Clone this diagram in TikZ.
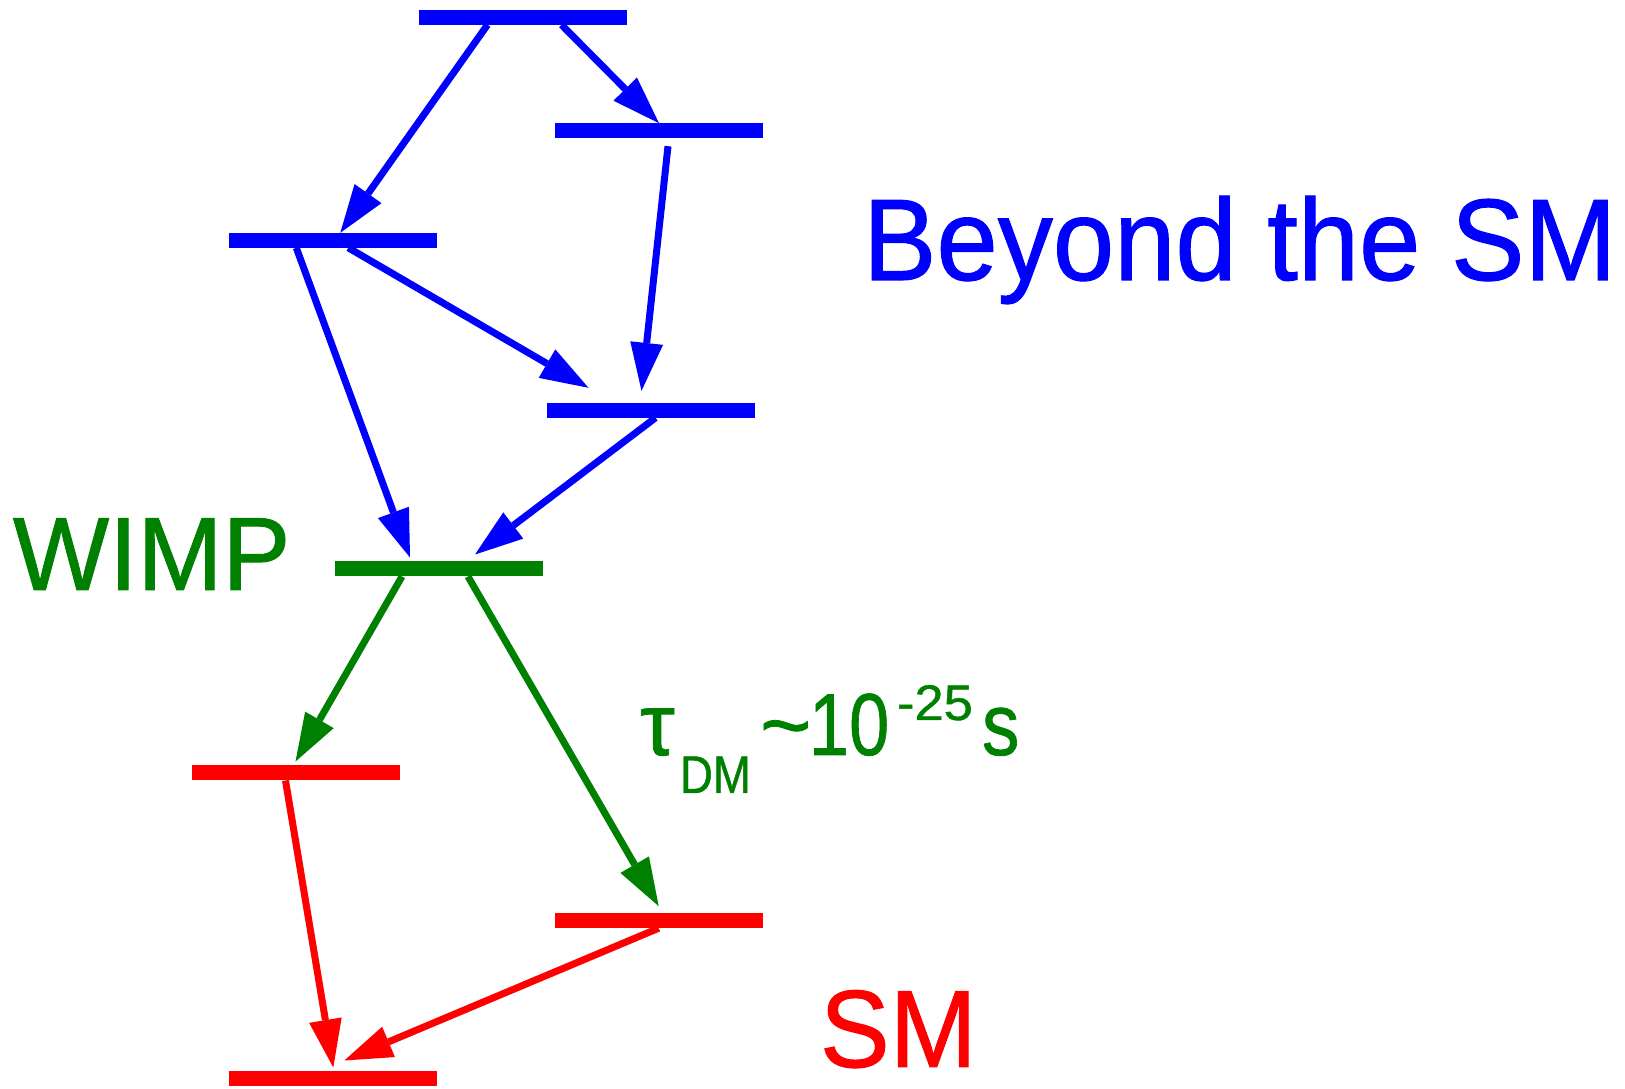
\documentclass[tikz,border=0pt]{standalone}
\usepackage{fontspec}
\usepackage{graphicx}
\setmainfont{Liberation Sans}
\newfontfamily\lblfont{Liberation Sans}[UprightFeatures={FakeBold=0.9}]
\usetikzlibrary{arrows.meta}
\definecolor{bsmblue}{RGB}{0,0,255}
\definecolor{wgreen}{RGB}{0,128,0}
\definecolor{smred}{RGB}{255,0,0}
\begin{document}
\begin{tikzpicture}[x=1pt,y=1pt,
  level/.style={fill=#1, draw=none, minimum width=208pt, minimum height=15pt, inner sep=0pt, outer sep=0pt},
  trans/.style={draw=#1, line width=7pt, -{Triangle[length=48pt,width=33pt,line width=0pt]}},
  lbl/.style={inner sep=0pt, outer sep=0pt, anchor=base west, font=\lblfont}]
\useasboundingbox (0,0) rectangle (1625,1089);
% levels
\node[level=bsmblue] (b1) at (522.5,1071.7) {};
\node[level=bsmblue] (b2) at (659,958.3) {};
\node[level=bsmblue] (b3) at (333.3,848.7) {};
\node[level=bsmblue] (b4) at (650.5,678.7) {};
\node[level=wgreen] (b5) at (439,520) {};
\node[level=smred] (b6) at (295.5,316) {};
\node[level=smred] (b7) at (658.7,168.3) {};
\node[level=smred] (b8) at (333.3,10) {};
% transitions
\draw[trans=bsmblue] ([xshift=-35pt]b1.south) -- ([xshift=7pt]b3.north);
\draw[trans=bsmblue] ([xshift=39pt]b1.south) -- (b2.north);
\draw[trans=bsmblue] ([xshift=9pt,yshift=-8pt]b2.south) -- ([xshift=-9pt,yshift=12pt]b4.north);
\draw[trans=bsmblue] ([xshift=15pt]b3.south) -- ([xshift=-62pt,yshift=15pt]b4.north);
\draw[trans=bsmblue] ([xshift=-37pt]b3.south) -- ([xshift=-29pt,yshift=4pt]b5.north);
\draw[trans=bsmblue] ([xshift=5pt]b4.south) -- ([xshift=36pt,yshift=7pt]b5.north);
\draw[trans=wgreen] ([xshift=-37pt]b5.south) -- ([yshift=4pt]b6.north);
\draw[trans=wgreen] ([xshift=29pt]b5.south) -- ([yshift=7pt]b7.north);
\draw[trans=smred] ([xshift=-10pt]b6.south) -- ([yshift=4pt]b8.north);
\draw[trans=smred] (b7.south) -- ([xshift=11pt,yshift=11pt]b8.north);
% labels
\node[lbl, text=bsmblue] (bsm) at (863,809) {\fontsize{116}{116}\selectfont\scalebox{0.95}[1]{Beyond the SM}};
\node[lbl, text=wgreen] (wimp) at (13,499) {\fontsize{104}{104}\selectfont\scalebox{0.98}[1]{WIMP}};
\node[lbl, text=smred] (sm) at (820,22) {\fontsize{110}{110}\selectfont\scalebox{0.95}[1]{SM}};
\node[lbl, text=wgreen] (tau) at (640,334) {\fontsize{88}{88}\selectfont τ};
\node[lbl, text=wgreen] (dm) at (680,296) {\fontsize{53}{53}\selectfont\scalebox{0.86}[1]{DM}};
\node[lbl, text=wgreen] (tilde) at (760,334) {\fontsize{88}{88}\selectfont\char`\~};
\node[lbl, text=wgreen] (ten) at (809,334) {\fontsize{88}{88}\selectfont\scalebox{0.82}[1]{10}};
\node[lbl, text=wgreen] (expo) at (897,369) {\fontsize{50}{50}\selectfont\scalebox{1.05}[1]{-25}};
\node[lbl, text=wgreen] (sec) at (982,334) {\fontsize{88}{88}\selectfont\scalebox{0.85}[1]{s}};
\end{tikzpicture}
\end{document}
